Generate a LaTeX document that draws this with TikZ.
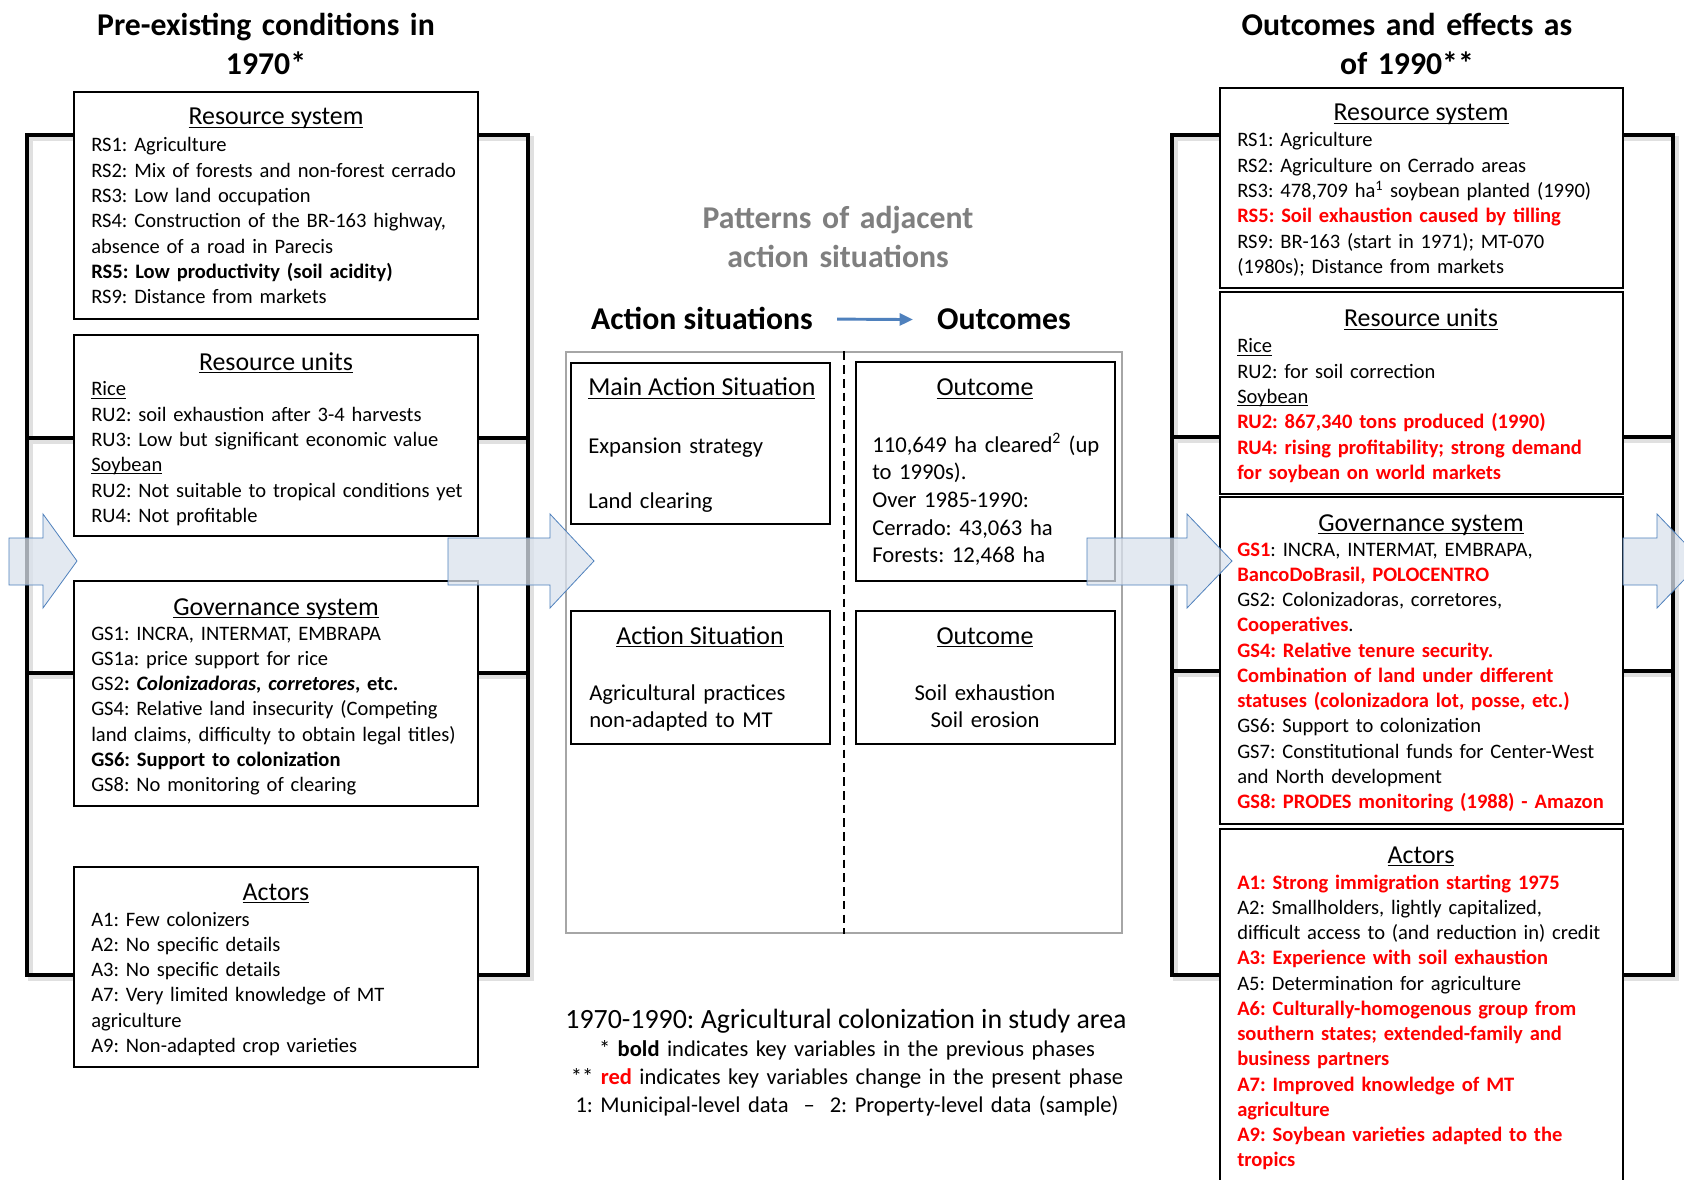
\documentclass[tikz,border=0pt]{standalone}
\usepackage{fontspec}
\setmainfont{Carlito}
\usepackage{xcolor}
\definecolor{sesblue}{RGB}{79,129,189}
\definecolor{sesarrow}{RGB}{218,226,237}
\definecolor{sesgray}{RGB}{127,127,127}
\definecolor{sesred}{RGB}{255,0,0}
\usetikzlibrary{arrows.meta, fit, decorations.pathmorphing}

\newcommand{\bodyfont}{\fontsize{15.4}{18.95}\selectfont}
\newcommand{\midfont}{\fontsize{17}{20.8}\selectfont}
\newcommand{\ttlfont}{\fontsize{19.4}{23}\selectfont}
\newcommand{\headfont}{\fontsize{23.8}{29}\selectfont\bfseries}
\newcommand{\ulhead}[1]{\underline{\smash{#1}}}
\newcommand{\chg}[1]{\textcolor{sesred}{\textbf{#1}}}
\newlength{\bancowidth}
\frenchspacing

\tikzset{
  sesbox/.style={draw=black, line width=1.3pt, fill=white, inner sep=0pt},
  bracket/.style={line width=3pt, line join=miter},
  bracketshadow/.style={line width=4pt, line join=miter, black!12, xshift=2.5pt, yshift=-2.5pt},
  blockarr/.style={draw=sesblue, line width=0.6pt, fill=sesarrow, fill opacity=0.75},
  boxtitle/.style={font=\ttlfont, anchor=base, inner sep=0pt},
  boxbody/.style={font=\bodyfont, anchor=base west, align=left, text width=330pt, inner sep=0pt},
  midbody/.style={font=\midfont, anchor=base west, align=left, text width=180pt, inner sep=0pt},
  heading/.style={font=\headfont, align=center, text width=300pt, anchor=base, inner sep=0pt}
}

\begin{document}
\begin{tikzpicture}[x=0.75pt, y=-0.75pt, >=Stealth]
  \useasboundingbox[fill=white] (0,0) rectangle (1684,1180);
  \clip (0,0) rectangle (1684,1180);

  %% --- Headings ---
  \node[heading] (prehead) at (266,36) {Pre-existing conditions in\\1970*};
  \node[heading] (posthead) at (1407,36) {Outcomes and effects as\\of 1990**};
  \node[heading, text=sesgray] (pathead) at (838,229) {Patterns of adjacent\\action situations};

  %% --- Brackets ---
  \foreach \bx/\by in {27/438, 1172/437} {
    \draw[bracketshadow] (\bx,135) rectangle ++(501,840);
    \draw[bracketshadow] (\bx,\by) -- ++(501,0);
  }
  \draw[bracketshadow] (27,673) -- (528,673);
  \draw[bracketshadow] (1172,671) -- (1673,671);
  \draw[bracket] (27,135) rectangle (528,975);
  \draw[bracket] (27,438) -- (528,438);
  \draw[bracket] (27,673) -- (528,673);
  \draw[bracket] (1172,135) rectangle (1673,975);
  \draw[bracket] (1172,437) -- (1673,437);
  \draw[bracket] (1172,671) -- (1673,671);

  %% --- Left column: 1970 ---
  \node[sesbox, fit={(74,92) (478,319)}] (lrs) {};
  \node[boxtitle] (lrsT) at (276,125) {\ulhead{Resource system}};
  \node[boxbody] (lrsB) at (91,152) {RS1: Agriculture\\
    RS2: Mix of forests and non-forest cerrado\\
    RS3: Low land occupation\\
    RS4: Construction of the BR-163 highway,\\
    absence of a road in Parecis\\
    \textbf{RS5: Low productivity (soil acidity)}\\
    RS9: Distance from markets};

  \node[sesbox, fit={(74,335) (478,536)}] (lru) {};
  \node[boxtitle] (lruT) at (276,370) {\ulhead{Resource units}};
  \node[boxbody] (lruB) at (91,396) {\ulhead{Rice}\\
    RU2: soil exhaustion after 3-4 harvests\\
    RU3: Low but significant economic value\\
    \ulhead{Soybean}\\
    RU2: Not suitable to tropical conditions yet\\
    RU4: Not profitable};

  \node[sesbox, fit={(74,581) (478,806)}] (lgs) {};
  \node[boxtitle] (lgsT) at (276,615) {\ulhead{Governance system}};
  \node[boxbody] (lgsB) at (91,640) {GS1: INCRA, INTERMAT, EMBRAPA\\
    GS1a: price support for rice\\
    GS2\textbf{: \textit{Colonizadoras, corretores}, etc.}\\
    GS4: Relative land insecurity (Competing\\
    land claims, difficulty to obtain legal titles)\\
    \textbf{GS6: Support to colonization}\\
    GS8: No monitoring of clearing};

  \node[sesbox, fit={(74,867) (478,1067)}] (lac) {};
  \node[boxtitle] (lacT) at (276,900) {\ulhead{Actors}};
  \node[boxbody] (lacB) at (91,926) {A1: Few colonizers\\
    A2: No specific details\\
    A3: No specific details\\
    A7: Very limited knowledge of MT\\
    agriculture\\
    A9: Non-adapted crop varieties};

  %% --- Middle: action situations and outcomes ---
  \node[heading, text width=] (asit) at (702,330) {Action situations};
  \node[heading, text width=] (outc) at (1004,330) {Outcomes};
  \draw[-{Triangle[length=10pt, width=9pt]}, sesblue, line width=2.2pt, shorten <=18pt, shorten >=18pt]
    (asit.east) -- (outc.west);

  \node[draw=black!35, line width=0.8pt, inner sep=0pt, fit={(566,352) (1122,933)}] (midframe) {};
  \draw[line width=1.3pt, dash pattern=on 6.5pt off 3.8pt] (midframe.north) -- (midframe.south);

  \node[sesbox, fit={(571,363) (830,524)}] (mas) {};
  \node[boxtitle, anchor=base west] (masT) at (588,396) {\ulhead{Main Action Situation}};
  \node[midbody] (masB) at (588,453) {Expansion strategy\\[20.8pt]Land clearing};

  \node[sesbox, fit={(856,362) (1115,581)}] (out1) {};
  \node[boxtitle] (out1T) at (985,396) {\ulhead{Outcome}};
  \node[midbody] (out1B) at (872,452) {110,649 ha cleared\textsuperscript{2} (up\\
    to 1990s).\\
    Over 1985-1990:\\
    Cerrado: 43,063 ha\\
    Forests: 12,468 ha};

  \node[sesbox, fit={(571,611) (830,744)}] (as2) {};
  \node[boxtitle] (as2T) at (700,644) {\ulhead{Action Situation}};
  \node[midbody] (as2B) at (589,700) {Agricultural practices\\non-adapted to MT};

  \node[sesbox, fit={(856,611) (1115,744)}] (out2) {};
  \node[boxtitle] (out2T) at (985,644) {\ulhead{Outcome}};
  \node[midbody, align=center, anchor=base] (out2B) at (985,700) {Soil exhaustion\\Soil erosion};

  %% --- Legend ---
  \node[font=\fontsize{20.9}{24}\selectfont, anchor=base, inner sep=0pt] (period) at (846,1028)
    {1970-1990: Agricultural colonization in study area};
  \node[font=\fontsize{16.9}{21}\selectfont, align=center, text width=440pt, anchor=base, inner sep=0pt] (legend) at (847,1056)
    {* \textbf{bold} indicates key variables in the previous phases\\
     {}** \chg{red} indicates key variables change in the present phase\\
     1: Municipal-level data~~--~~2: Property-level data (sample)};

  %% --- Right column: 1990 ---
  \node[sesbox, fit={(1220,88) (1623,288)}] (rrs) {};
  \node[boxtitle] (rrsT) at (1421,121) {\ulhead{Resource system}};
  \node[boxbody] (rrsB) at (1237,147) {RS1: Agriculture\\
    RS2: Agriculture on Cerrado areas\\
    RS3: 478,709 ha\textsuperscript{1} soybean planted (1990)\\
    \chg{RS5: Soil exhaustion caused by tilling}\\
    RS9: BR-163 (start in 1971); MT-070\\
    (1980s); Distance from markets};

  \node[sesbox, fit={(1220,292) (1623,494)}] (rru) {};
  \node[boxtitle] (rruT) at (1421,327) {\ulhead{Resource units}};
  \node[boxbody] (rruB) at (1237,353) {\ulhead{Rice}\\
    RU2: for soil correction\\
    \ulhead{Soybean}\\
    \chg{RU2: 867,340 tons produced (1990)}\\
    \chg{RU4: rising profitability; strong demand}\\
    \chg{for soybean on world markets}};

  \node[sesbox, fit={(1220,497) (1623,824)}] (rgs) {};
  \node[boxtitle] (rgsT) at (1421,531) {\ulhead{Governance system}};
  \node[boxbody] (rgsB) at (1237,556) {\chg{GS1}: INCRA, INTERMAT, EMBRAPA,\\
    \chg{BancoDoBrasil, POLOCENTRO}\\
    GS2: Colonizadoras, corretores,\\
    \chg{Cooperatives}.\\
    \chg{GS4: Relative tenure security.}\\
    \chg{Combination of land under different}\\
    \chg{statuses (colonizadora lot, posse, etc.)}\\
    GS6: Support to colonization\\
    GS7: Constitutional funds for Center-West\\
    and North development\\
    \chg{GS8: PRODES monitoring (1988) - Amazon}};
  % spell-check squiggle under BancoDoBrasil
  \settowidth{\bancowidth}{\bodyfont\bfseries BancoDoBrasil}
  \coordinate (banco) at (1237,585);
  \draw[sesred!80, line width=0.6pt, decorate, decoration={snake, amplitude=0.8pt, segment length=2.8pt}]
    (banco) -- ++(\bancowidth,0);

  \node[sesbox, fit={(1220,829) (1623,1200)}] (rac) {};
  \node[boxtitle] (racT) at (1421,863) {\ulhead{Actors}};
  \node[boxbody] (racB) at (1237,889) {\chg{A1: Strong immigration starting 1975}\\
    A2: Smallholders, lightly capitalized,\\
    difficult access to (and reduction in) credit\\
    \chg{A3: Experience with soil exhaustion}\\
    A5: Determination for agriculture\\
    \chg{A6: Culturally-homogenous group from}\\
    \chg{southern states; extended-family and}\\
    \chg{business partners}\\
    \chg{A7: Improved knowledge of MT}\\
    \chg{agriculture}\\
    \chg{A9: Soybean varieties adapted to the}\\
    \chg{tropics}};

  %% --- Block arrows between phases ---
  \foreach \xa/\xb/\xt in {9/43/77, 448/550/594, 1087/1187/1232, 1623/1657/1702}
    \draw[blockarr] (\xa,538) -- (\xb,538) -- (\xb,514) -- (\xt,561)
      -- (\xb,608) -- (\xb,585) -- (\xa,585) -- cycle;
\end{tikzpicture}
\end{document}
